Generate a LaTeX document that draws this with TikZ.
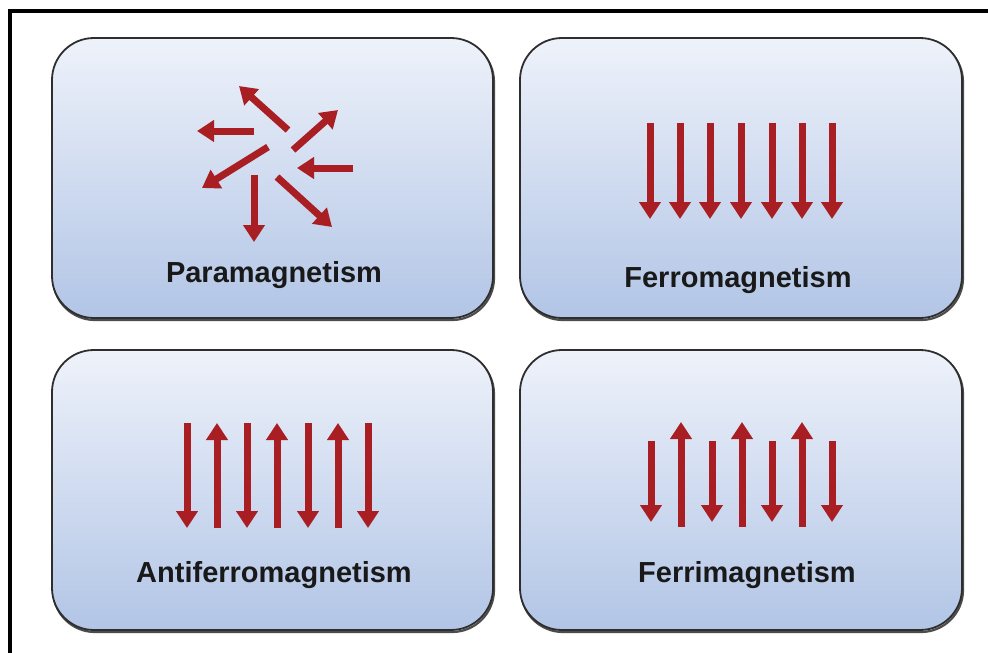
\documentclass[tikz,border=0pt]{standalone}
\usepackage{fontspec}
\setmainfont{Liberation Sans}
\usetikzlibrary{arrows.meta}
\definecolor{spin}{HTML}{A81E22}
\definecolor{boxtop}{HTML}{EEF2FA}
\definecolor{boxbot}{HTML}{B2C5E6}
\definecolor{boxline}{HTML}{2E2E2E}
\tikzset{
  panel/.style={rounded corners=42pt, draw=boxline, line width=1.8pt,
    top color=boxtop, bottom color=boxbot},
  panelshadow/.style={rounded corners=42pt, draw=black!70, line width=2.2pt},
  spinarrow/.style={draw=spin, line width=7pt,
    -{Triangle[width=21pt,length=17pt,color=spin]}, shorten >=0pt},
  label/.style={font=\bfseries\fontsize{29}{32}\selectfont, anchor=base,
    text=black!90, inner sep=0pt}
}
\begin{document}
\begin{tikzpicture}[x=1pt,y=-1pt]
\useasboundingbox (0,0) rectangle (988,653);
\fill[white] (0,0) rectangle (988,653);
% outer frame
\draw[line width=3.5pt] (10,653) -- (10,11) -- (988,11);

% panels
\foreach \xa/\ya/\xb/\yb/\nm in {52/38/493/318/pa, 520/38/962/318/fe, 52/350/493/630/af, 520/350/962/630/fi}{
  \draw[panelshadow] (\xa+1,\ya+2) rectangle (\xb+1,\yb+2);
  \path[panel] (\xa,\ya) rectangle (\xb,\yb);
  \coordinate (\nm) at ({(\xa+\xb)/2},{(\ya+\yb)/2});
}

% labels
\node[label] (lpa) at (274,282) {Paramagnetism};
\node[label] (lfe) at (738,287) {Ferromagnetism};
\node[label] (laf) at (274,582) {Antiferromagnetism};
\node[label] (lfi) at (747,582) {Ferrimagnetism};

% paramagnetism: randomly oriented moments
\foreach \ax/\ay/\bx/\by/\nm in {288/130/239/86/p1, 254/131/197/131/p2,
  293/150/338/110/p3, 353/168/297/168/p4, 268/147/202/188/p5,
  254/175/254/242/p6, 277/177/332/227/p7}{
  \coordinate (\nm t) at (\ax,\ay);
  \coordinate (\nm h) at (\bx,\by);
  \draw[spinarrow] (\nm t) -- (\nm h);
}

% ferromagnetism: all moments parallel
\foreach \x [count=\i] in {650,680,710,741,772,802,832}{
  \coordinate (f\i t) at (\x,123);
  \coordinate (f\i h) at (\x,219);
  \draw[spinarrow] (f\i t) -- (f\i h);
}

% antiferromagnetism: equal antiparallel moments
\foreach \x/\d [count=\i] in {187/0,217/1,247/0,277/1,308/0,338/1,368/0}{
  \ifnum\d=0
    \coordinate (a\i t) at (\x,423);
    \coordinate (a\i h) at (\x,528);
  \else
    \coordinate (a\i t) at (\x,528);
    \coordinate (a\i h) at (\x,423);
  \fi
  \draw[spinarrow] (a\i t) -- (a\i h);
}

% ferrimagnetism: unequal antiparallel moments
\foreach \x/\d [count=\i] in {651/0,681/1,712/0,742/1,772/0,802/1,832/0}{
  \ifnum\d=0
    \coordinate (r\i t) at (\x,441);
    \coordinate (r\i h) at (\x,522);
  \else
    \coordinate (r\i t) at (\x,527);
    \coordinate (r\i h) at (\x,422);
  \fi
  \draw[spinarrow] (r\i t) -- (r\i h);
}
\end{tikzpicture}
\end{document}
